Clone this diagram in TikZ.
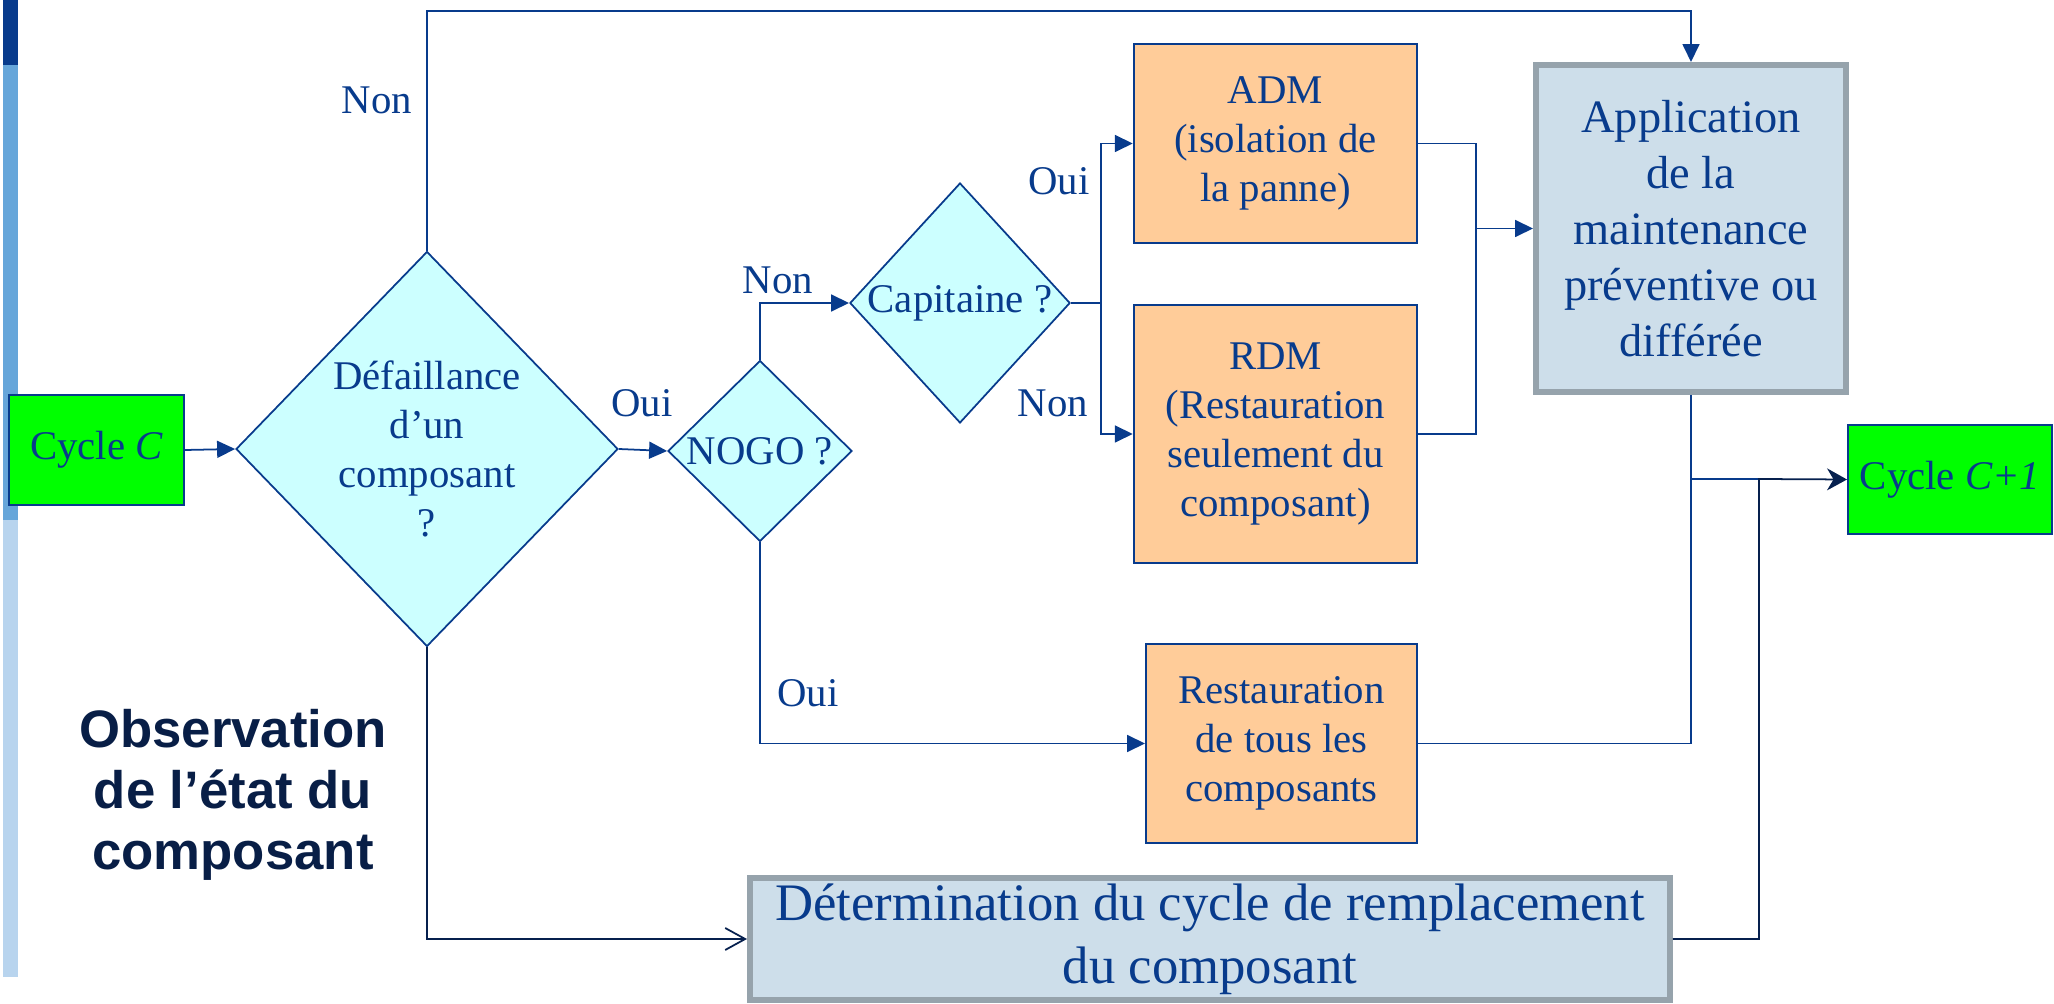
\documentclass[tikz,border=0pt]{standalone}
\usepackage{fontspec}
\setmainfont{Liberation Serif}
\newfontfamily\obsfont{Liberation Sans}
\usetikzlibrary{shapes.geometric,arrows.meta}
\definecolor{navy}{RGB}{8,59,140}
\definecolor{darknavy}{RGB}{6,32,78}
\definecolor{obsnavy}{RGB}{8,30,70}
\definecolor{cyanfill}{RGB}{204,255,255}
\definecolor{orangefill}{RGB}{255,204,153}
\definecolor{cyclegreen}{RGB}{0,255,0}
\definecolor{greyfill}{RGB}{205,222,234}
\definecolor{greyline}{RGB}{150,163,172}
\definecolor{barblue}{RGB}{102,166,218}
\definecolor{barlight}{RGB}{184,212,238}
\begin{document}
\begin{tikzpicture}[
        font=\fontsize{11.6}{13.9}\selectfont, text=navy,
        cyclebox/.style={draw=navy,line width=0.7pt,fill=cyclegreen,minimum height=1.095cm,inner sep=0pt},
        test/.style={diamond,draw=navy,line width=0.5pt,fill=cyanfill,inner sep=0pt,align=center},
        action/.style={draw=navy,line width=0.7pt,fill=orangefill,minimum width=2.83cm,inner sep=0pt,align=center},
        plan/.style={draw=greyline,line width=1.7pt,fill=greyfill,inner sep=0pt,align=center},
        answer/.style={inner sep=0pt},
        link/.style={draw=navy,line width=0.5pt},
        darklink/.style={draw=darknavy,line width=0.5pt},
        arr/.style={-{Triangle[length=1.8mm,width=1.7mm]}}
    ]
        \useasboundingbox (0,0) rectangle (20.54,10.04);
        %% Side bar
        \fill[navy] (0.03,10.04) rectangle (0.18,9.39);
        \fill[barblue] (0.03,9.39) rectangle (0.18,4.84);
        \fill[barlight] (0.03,4.84) rectangle (0.18,0.27);
        %% Cycles
        \node[cyclebox,minimum width=1.745cm] (cycC) at (0.965,5.54) {Cycle \textit{C}};
        \node[cyclebox,minimum width=2.035cm] (cycC1) at (19.50,5.245) {Cycle \textit{C+1}};
        %% Tests
        \node[test,minimum width=3.82cm,minimum height=3.95cm] (defail) at (4.27,5.55) {Défaillance\\d’un\\composant\\?};
        \node[test,minimum width=1.84cm,minimum height=1.81cm] (nogo) at (7.60,5.53) {NOGO ?};
        \node[test,minimum width=2.16cm,minimum height=2.40cm] (capit) at (9.60,7.01) {Capitaine ?};
        %% Actions
        \node[action,minimum height=1.985cm] (adm) at (12.755,8.605) {ADM\\(isolation de\\la panne)};
        \node[action,minimum height=2.575cm] (rdm) at (12.755,5.70) {RDM\\(Restauration\\seulement du\\composant)};
        \node[action,minimum width=2.705cm,minimum height=1.985cm] (restall) at (12.815,2.605) {Restauration\\de tous les\\composants};
        \node[plan,minimum width=3.10cm,minimum height=3.27cm,font=\fontsize{13.2}{15.9}\selectfont] (apply) at (16.91,7.755) {Application\\de la\\maintenance\\préventive ou\\différée};
        \node[plan,minimum width=9.20cm,minimum height=1.22cm,font=\fontsize{15}{17.9}\selectfont] (determ) at (12.10,0.65) {Détermination du cycle de remplacement\\du composant};
        %% Title
        \node[font={\obsfont\bfseries\fontsize{15}{17.4}\selectfont},text=obsnavy,align=center] (observ) at (2.33,2.09) {Observation\\de l’état du\\composant};
        %% Answers
        \node[answer] (non1) at (3.77,9.04) {Non};
        \node[answer] (oui1) at (6.42,6.01) {Oui};
        \node[answer] (non2) at (7.78,7.24) {Non};
        \node[answer] (oui2) at (10.59,8.23) {Oui};
        \node[answer] (non3) at (10.53,6.01) {Non};
        \node[answer] (oui3) at (8.08,3.11) {Oui};
        %% Connectors
        \coordinate (skip) at (16.91,9.93);
        \coordinate (split) at (11.01,7.01);
        \coordinate (merge) at (14.76,7.755);
        \coordinate (join) at (16.91,5.25);
        \coordinate (joindet) at (17.59,5.25);
        \draw[link,arr] (cycC.east) -- (defail.west);
        \draw[link,arr] (defail.north) |- (skip) -- (apply.north);
        \draw[link,arr] (defail.east) -- (nogo.west);
        \draw[link,arr] (nogo.north) |- (capit.west);
        \draw[link] (capit.east) -- (split);
        \draw[link,arr] (split) |- (adm.west);
        \draw[link,arr] (split) |- (rdm.west);
        \draw[link] (adm.east) -| (merge) |- (rdm.east);
        \draw[link,arr] (merge) -- (apply.west);
        \draw[link,arr] (nogo.south) |- (restall.west);
        \draw[link] (apply.south) -- (join);
        \draw[link] (restall.east) -| (join);
        \draw[link] (join) -- (joindet);
        \draw[darklink,-{Straight Barb[length=2mm,width=2.2mm]}] (defail.south) |- (determ.west);
        \draw[darklink,-{Stealth[length=2mm,width=2.2mm]}] (determ.east) -| (joindet) -- (cycC1.west);
    \end{tikzpicture}
\end{document}
